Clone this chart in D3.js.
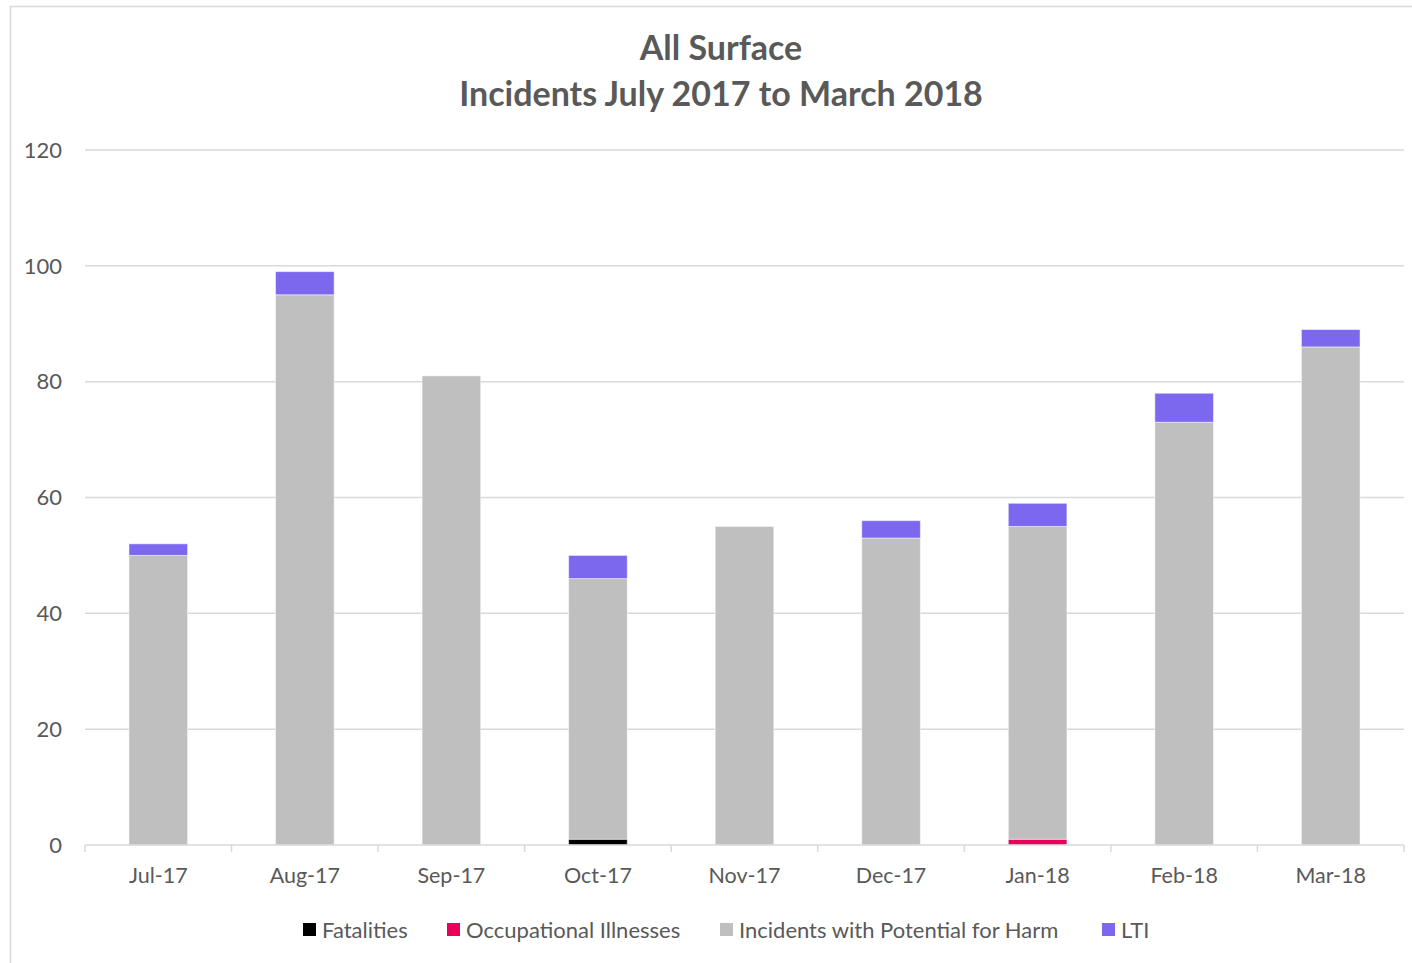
<!DOCTYPE html>
<html>
<head>
<meta charset="utf-8">
<script src="https://cdn.jsdelivr.net/npm/d3@7"></script>
<style>
  body { margin: 0; background: #fff; }
  text { font-family: Lato, 'Open Sans', sans-serif; }
</style>
</head>
<body>
<svg width="1412" height="963"></svg>
<script>
var svg = d3.select('svg');

// Data
var months = ['Jul-17', 'Aug-17', 'Sep-17', 'Oct-17', 'Nov-17', 'Dec-17', 'Jan-18', 'Feb-18', 'Mar-18'];
var fatalities = [0, 0, 0, 1, 0, 0, 0, 0, 0];
var illnesses = [0, 0, 0, 0, 0, 0, 1, 0, 0];
var potentialHarm = [50, 95, 81, 45, 55, 53, 54, 73, 86];
var lti = [2, 4, 0, 4, 0, 3, 4, 5, 3];
var yTicks = [0, 20, 40, 60, 80, 100, 120];

var seriesNames = ['Fatalities', 'Occupational Illnesses', 'Incidents with Potential for Harm', 'LTI'];
var seriesColors = ['#000000', '#e8005a', '#bfbfbf', '#7b68ee'];

var rows = months.map(function(m, i) {
    return {
        month: m,
        'Fatalities': fatalities[i],
        'Occupational Illnesses': illnesses[i],
        'Incidents with Potential for Harm': potentialHarm[i],
        'LTI': lti[i]
    };
});

// layout
var plotLeft = 85, plotRight = 1404, plotTop = 150, plotBottom = 845;

// outer chart border
svg.append('rect')
    .attr('x', 10.5).attr('y', 6.5)
    .attr('width', 1420).attr('height', 1000)
    .attr('fill', 'none')
    .attr('stroke', '#d9d9d9')
    .attr('stroke-width', 1.5);

var x = d3.scaleBand().domain(months).range([plotLeft, plotRight]).paddingInner(0.6).paddingOuter(0.3);
var y = d3.scaleLinear().domain([0, 120]).range([plotBottom, plotTop]);

// gridlines
svg.append('g')
    .selectAll('line')
    .data(yTicks.slice(1))
    .enter()
    .append('line')
    .attr('x1', plotLeft).attr('x2', plotRight)
    .attr('y1', function(d) { return y(d); })
    .attr('y2', function(d) { return y(d); })
    .attr('stroke', '#d9d9d9')
    .attr('stroke-width', 1.5);

// y labels
svg.append('g')
    .selectAll('text')
    .data(yTicks)
    .enter()
    .append('text')
    .attr('x', 62)
    .attr('y', function(d) { return y(d); })
    .attr('dy', '0.35em')
    .attr('text-anchor', 'end')
    .style('font-size', '22px')
    .style('fill', '#595959')
    .text(function(d) { return d; });

// stacked bars
var stack = d3.stack().keys(seriesNames);
var layers = stack(rows);

svg.append('g')
    .selectAll('g')
    .data(layers)
    .enter()
    .append('g')
    .attr('fill', function(d, i) { return seriesColors[i]; })
    .selectAll('rect')
    .data(function(d) { return d.filter(function(p) { return p[1] > p[0]; }); })
    .enter()
    .append('rect')
    .attr('x', function(d) { return x(d.data.month); })
    .attr('width', x.bandwidth())
    .attr('y', function(d) { return y(d[1]); })
    .attr('height', function(d) { return y(d[0]) - y(d[1]); })
    .attr('stroke', 'rgba(255,255,255,0.5)')
    .attr('stroke-width', 1);

// x axis line and tick marks
svg.append('line')
    .attr('x1', plotLeft).attr('x2', plotRight)
    .attr('y1', plotBottom).attr('y2', plotBottom)
    .attr('stroke', '#d9d9d9')
    .attr('stroke-width', 1.5);

svg.append('g')
    .selectAll('line')
    .data(d3.range(months.length + 1))
    .enter()
    .append('line')
    .attr('x1', function(i) { return plotLeft + i * (plotRight - plotLeft) / months.length; })
    .attr('x2', function(i) { return plotLeft + i * (plotRight - plotLeft) / months.length; })
    .attr('y1', plotBottom).attr('y2', plotBottom + 7)
    .attr('stroke', '#d9d9d9')
    .attr('stroke-width', 1.5);

svg.append('g')
    .selectAll('text')
    .data(months)
    .enter()
    .append('text')
    .attr('x', function(d) { return x(d) + x.bandwidth() / 2; })
    .attr('y', 883)
    .attr('text-anchor', 'middle')
    .style('font-size', '21.5px')
    .style('fill', '#595959')
    .text(function(d) { return d; });

// title
svg.append('text')
    .attr('x', 721).attr('y', 60)
    .attr('text-anchor', 'middle')
    .style('font-size', '34px')
    .style('font-weight', 'bold')
    .style('fill', '#595959')
    .text('All Surface');
svg.append('text')
    .attr('x', 721).attr('y', 106)
    .attr('text-anchor', 'middle')
    .style('font-size', '34px')
    .style('font-weight', 'bold')
    .style('fill', '#595959')
    .text('Incidents July 2017 to March 2018');

// legend
var legendX = [303, 447, 720, 1102];
var legend = svg.append('g')
    .selectAll('g')
    .data(seriesNames)
    .enter()
    .append('g')
    .attr('transform', function(d, i) { return 'translate(' + [legendX[i], 923] + ')'; });
legend.append('rect')
    .attr('width', 13).attr('height', 13)
    .attr('fill', function(d, i) { return seriesColors[i]; });
legend.append('text')
    .attr('x', 19).attr('y', 7)
    .attr('dy', '0.35em')
    .style('font-size', '22px')
    .style('fill', '#595959')
    .text(function(d) { return d; });
</script>
</body>
</html>
